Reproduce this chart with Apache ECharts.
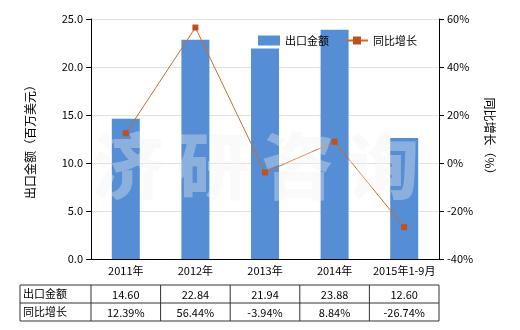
<!DOCTYPE html>
<html>
<head>
<meta charset="utf-8">
<script src="https://cdn.jsdelivr.net/npm/echarts@6/dist/echarts.min.js"></script>
<style>
  html, body { margin: 0; padding: 0; background: #fff; }
  #main { width: 520px; height: 330px; }
</style>
</head>
<body>
<div id="main"></div>
<script>
// 出口金额 / 同比增长
const years = ['2011年', '2012年', '2013年', '2014年', '2015年1-9月']
const exportValue = [14.60, 22.84, 21.94, 23.88, 12.60]
const growth = [12.39, 56.44, -3.94, 8.84, -26.74]
const rowNames = ['出口金额', '同比增长']
const watermark = ['济', '研', '咨', '询']

const font = '"Noto Sans CJK SC", "Microsoft YaHei", sans-serif'
const gridLeft = 91, gridRight = 439, tableTop = 285, rowH = 18

// 表格（用 graphic 画）
let tableEls = []
const colW = (gridRight - gridLeft) / years.length
const tableBottom = tableTop + rowH * rowNames.length
tableEls.push({ type: 'rect', shape: { x: 20, y: tableTop, width: gridRight - 20, height: rowH * 2 },
  style: { fill: 'none', stroke: '#333', lineWidth: 1 } })
tableEls.push({ type: 'line', shape: { x1: 20, y1: tableTop + rowH, x2: gridRight, y2: tableTop + rowH },
  style: { stroke: '#333', lineWidth: 1 } })
for (let i = 0; i < years.length; i++) {
  let x = gridLeft + colW * i
  tableEls.push({ type: 'line', shape: { x1: x, y1: tableTop, x2: x, y2: tableBottom },
    style: { stroke: '#333', lineWidth: 1 } })
}
rowNames.forEach((name, r) => {
  tableEls.push({ type: 'text', x: 23, y: tableTop + rowH * r + rowH / 2,
    style: { text: name, font: '11px ' + font, fill: '#000', verticalAlign: 'middle' } })
})
years.forEach((y, i) => {
  let cx = gridLeft + colW * (i + 0.5)
  tableEls.push({ type: 'text', x: cx, y: tableTop + rowH / 2 + 1,
    style: { text: exportValue[i].toFixed(2), font: '11px ' + font, fill: '#000', align: 'center', verticalAlign: 'middle' } })
  tableEls.push({ type: 'text', x: cx, y: tableTop + rowH * 1.5 + 1,
    style: { text: growth[i].toFixed(2) + '%', font: '11px ' + font, fill: '#000', align: 'center', verticalAlign: 'middle' } })
})

// 水印
watermark.forEach((ch, i) => {
  tableEls.push({ type: 'text', x: 128 + 85 * i, y: 166, z: 100,
    style: { text: ch, font: '900 72px ' + font, fill: 'rgba(240,240,240,0.35)', align: 'center', verticalAlign: 'middle' } })
})

let myChart = echarts.init(document.getElementById('main'))
let options = {
  animation: false,
  textStyle: { fontFamily: font },
  grid: { left: gridLeft, right: 520 - gridRight, top: 19, bottom: 71 },
  legend: {
    top: 30, left: 253, itemGap: 16, itemWidth: 22, itemHeight: 10,
    textStyle: { fontSize: 11, color: '#000', fontFamily: font },
    data: [
      { name: '出口金额', icon: 'rect' },
      { name: '同比增长' }
    ]
  },
  xAxis: {
    type: 'category',
    data: years,
    axisLine: { lineStyle: { color: '#000' } },
    axisTick: { alignWithLabel: true, lineStyle: { color: '#000' } },
    axisLabel: { color: '#000', fontSize: 11, margin: 6, interval: 0 }
  },
  yAxis: [{
    type: 'value', min: 0, max: 25, interval: 5,
    name: '出口金额（百万美元）', nameLocation: 'middle', nameGap: 55, nameRotate: 90,
    nameTextStyle: { fontSize: 12, color: '#000' },
    axisLine: { show: true, lineStyle: { color: '#000' } },
    axisTick: { show: true, lineStyle: { color: '#000' } },
    axisLabel: { color: '#000', fontSize: 11, formatter: v => v.toFixed(1) },
    splitLine: { lineStyle: { color: '#e0e0e0' } }
  }, {
    type: 'value', min: -40, max: 60, interval: 20,
    name: '同比增长（%）', nameLocation: 'middle', nameGap: 45, nameRotate: -90,
    nameTextStyle: { fontSize: 12, color: '#000' },
    axisLine: { show: true, lineStyle: { color: '#000' } },
    axisTick: { show: true, lineStyle: { color: '#000' } },
    axisLabel: { color: '#000', fontSize: 11, formatter: '{value}%' },
    splitLine: { show: false }
  }],
  series: [{
    name: '出口金额',
    type: 'bar',
    barWidth: 28,
    itemStyle: { color: '#558ed5' },
    data: exportValue
  }, {
    name: '同比增长',
    type: 'line',
    yAxisIndex: 1,
    symbol: 'rect',
    symbolSize: 6,
    lineStyle: { color: '#d2691e', width: 1 },
    itemStyle: { color: '#c0501e' },
    data: growth
  }],
  graphic: tableEls
}
myChart.setOption(options)
</script>
</body>
</html>
